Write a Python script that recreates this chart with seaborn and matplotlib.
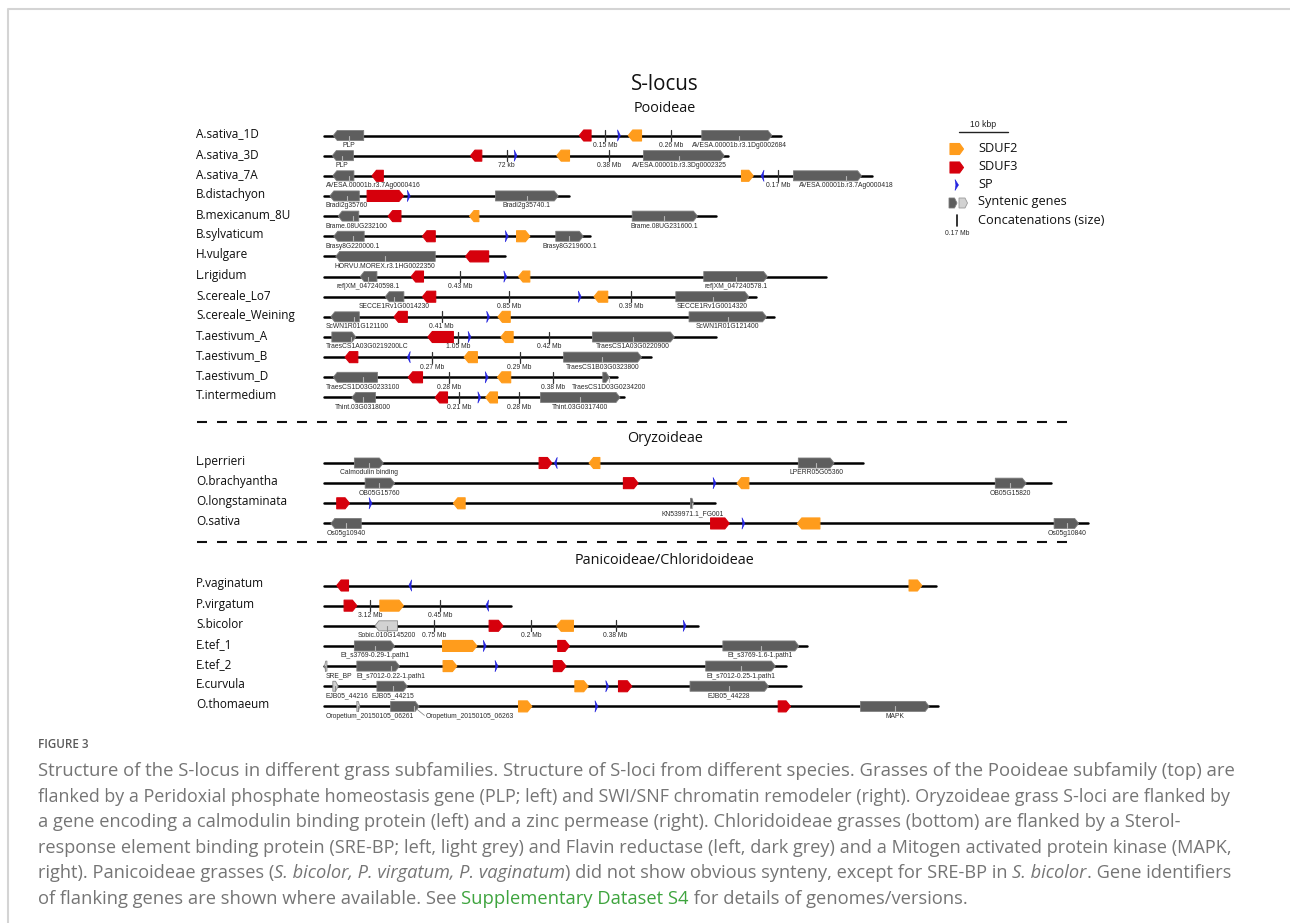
import numpy as np
import pandas as pd
import matplotlib
matplotlib.use("Agg")
import matplotlib.pyplot as plt
from matplotlib.patches import Polygon
import seaborn as sns

# rows of the figure, top to bottom, by subfamily
pooideae = ["A.sativa_1D", "A.sativa_3D", "A.sativa_7A", "B.distachyon", "B.mexicanum_8U",
            "B.sylvaticum", "H.vulgare", "L.rigidum", "S.cereale_Lo7", "S.cereale_Weining",
            "T.aestivum_A", "T.aestivum_B", "T.aestivum_D", "T.intermedium"]
oryzoideae = ["L.perrieri", "O.brachyantha", "O.longstaminata", "O.sativa"]
panicoideae = ["P.vaginatum", "P.virgatum", "S.bicolor", "E.tef_1", "E.tef_2", "E.curvula", "O.thomaeum"]
group_titles = ["Pooideae", "Oryzoideae", "Panicoideae/Chloridoideae"]

# drawn length of each locus in kb (same order as the rows)
locus_kb = [93.2, 82.4, 111.8, 50.0, 79.9, 54.2, 36.8, 102.3, 88.1, 91.8, 80.0, 66.6, 59.6, 61.1,
            109.8, 148.2, 79.7, 155.9,
            124.8, 38.1, 76.2, 98.5, 94.1, 97.3, 125.3]

# SDUF3 (red): species, start kb, end kb, strand
sduf3 = [("A.sativa_1D", 52.0, 54.4, -1), ("A.sativa_3D", 29.8, 32.1, -1), ("A.sativa_7A", 9.7, 12.0, -1),
         ("B.distachyon", 8.7, 16.1, 1), ("B.mexicanum_8U", 13.0, 15.6, -1), ("B.sylvaticum", 20.0, 22.6, -1),
         ("H.vulgare", 28.8, 33.5, -1), ("L.rigidum", 17.7, 20.2, -1), ("S.cereale_Lo7", 20.0, 22.7, -1),
         ("S.cereale_Weining", 14.2, 16.9, -1), ("T.aestivum_A", 21.1, 26.3, -1), ("T.aestivum_B", 4.2, 6.8, -1),
         ("T.aestivum_D", 17.1, 20.0, -1), ("T.intermedium", 22.6, 25.1, -1),
         ("L.perrieri", 43.8, 46.4, 1), ("O.brachyantha", 61.0, 64.0, 1), ("O.longstaminata", 2.5, 5.1, 1),
         ("O.sativa", 78.8, 82.6, 1),
         ("P.vaginatum", 2.5, 4.9, -1), ("P.virgatum", 4.0, 6.6, 1), ("S.bicolor", 33.6, 36.4, 1),
         ("E.tef_1", 47.6, 50.0, 1), ("E.tef_2", 46.7, 49.3, 1), ("E.curvula", 60.0, 62.7, 1),
         ("O.thomaeum", 92.6, 95.1, 1)]

# SDUF2 (orange)
sduf2 = [("A.sativa_1D", 62.0, 64.7, -1), ("A.sativa_3D", 47.4, 50.0, -1), ("A.sativa_7A", 85.1, 87.5, 1),
         ("B.mexicanum_8U", 29.6, 31.5, -1), ("B.sylvaticum", 39.2, 41.9, 1), ("L.rigidum", 39.6, 41.9, -1),
         ("S.cereale_Lo7", 55.0, 57.8, -1), ("S.cereale_Weining", 35.4, 37.9, -1), ("T.aestivum_A", 36.0, 38.5, -1),
         ("T.aestivum_B", 28.5, 31.2, -1), ("T.aestivum_D", 35.3, 38.0, -1), ("T.intermedium", 32.9, 35.3, -1),
         ("L.perrieri", 54.0, 56.2, -1), ("O.brachyantha", 84.2, 86.6, -1), ("O.longstaminata", 26.3, 28.7, -1),
         ("O.sativa", 96.5, 101.1, -1),
         ("P.vaginatum", 119.3, 121.9, 1), ("P.virgatum", 11.3, 16.1, 1), ("S.bicolor", 47.4, 50.8, -1),
         ("E.tef_1", 24.1, 31.1, 1), ("E.tef_2", 24.2, 27.0, 1), ("E.curvula", 51.1, 53.8, 1),
         ("O.thomaeum", 39.6, 42.3, 1)]

# SP (blue)
sp = [("A.sativa_1D", 59.8, 60.4, 1), ("A.sativa_3D", 38.7, 39.3, 1), ("A.sativa_7A", 89.1, 89.7, -1),
      ("B.distachyon", 16.9, 17.5, 1), ("B.sylvaticum", 36.9, 37.5, 1), ("L.rigidum", 36.6, 37.2, 1),
      ("S.cereale_Lo7", 51.8, 52.4, 1), ("S.cereale_Weining", 33.1, 33.7, 1), ("T.aestivum_A", 29.3, 29.9, 1),
      ("T.aestivum_B", 16.9, 17.5, -1), ("T.aestivum_D", 32.8, 33.4, 1), ("T.intermedium", 31.3, 31.9, 1),
      ("L.perrieri", 46.9, 47.5, -1), ("O.brachyantha", 79.3, 79.9, 1), ("O.longstaminata", 9.1, 9.7, 1),
      ("O.sativa", 85.2, 85.8, 1),
      ("P.vaginatum", 17.2, 17.8, -1), ("P.virgatum", 32.9, 33.5, -1), ("S.bicolor", 73.2, 73.8, 1),
      ("E.tef_1", 32.4, 33.0, 1), ("E.tef_2", 34.8, 35.4, 1), ("E.curvula", 57.4, 58.0, 1),
      ("O.thomaeum", 55.2, 55.8, 1)]

# syntenic flanking genes: species, start, end, strand, identifier, label anchor, shade
syntenic = [
    ("A.sativa_1D", 1.8, 8.0, -1, "PLP", 4.9, "dark"),
    ("A.sativa_1D", 77.0, 91.3, 1, "AVESA.00001b.r3.1Dg0002684", 84.6, "dark"),
    ("A.sativa_3D", 1.6, 5.9, -1, "PLP", 3.6, "dark"),
    ("A.sativa_3D", 65.1, 81.6, 1, "AVESA.00001b.r3.3Dg0002325", 72.4, "dark"),
    ("A.sativa_7A", 1.7, 6.0, -1, "AVESA.00001b.r3.7Ag0000416", 4.9, "dark"),
    ("A.sativa_7A", 95.7, 109.6, 1, "AVESA.00001b.r3.7Ag0000418", 106.4, "dark"),
    ("B.distachyon", 1.1, 7.1, -1, "Bradi2g35760", 4.6, "dark"),
    ("B.distachyon", 34.9, 47.7, 1, "Bradi2g35740.1", 41.3, "dark"),
    ("B.mexicanum_8U", 2.8, 7.0, -1, "Brame.08UG232100", 5.9, "dark"),
    ("B.mexicanum_8U", 62.8, 76.1, 1, "Brame.08UG231600.1", 69.3, "dark"),
    ("B.sylvaticum", 1.9, 8.1, -1, "Brasy8G220000.1", 5.8, "dark"),
    ("B.sylvaticum", 47.2, 52.8, 1, "Brasy8G219600.1", 50.0, "dark"),
    ("H.vulgare", 2.3, 22.6, -1, "HORVU.MOREX.r3.1HG0022350", 12.3, "dark"),
    ("L.rigidum", 7.3, 10.7, -1, "ref|XM_047240598.1", 8.9, "dark"),
    ("L.rigidum", 77.4, 90.4, 1, "ref|XM_047240578.1", 84.0, "dark"),
    ("S.cereale_Lo7", 12.4, 16.2, -1, "SECCE1Rv1G0014230", 14.2, "dark"),
    ("S.cereale_Lo7", 71.7, 86.6, 1, "SECCE1Rv1G0014320", 79.2, "dark"),
    ("S.cereale_Weining", 1.3, 7.1, -1, "ScWN1R01G121100", 6.0, "dark"),
    ("S.cereale_Weining", 74.4, 90.2, 1, "ScWN1R01G121400", 82.3, "dark"),
    ("T.aestivum_A", 1.5, 6.4, 1, "TraesCS1A03G0219200LC", 5.4, "dark"),
    ("T.aestivum_A", 54.7, 71.4, 1, "TraesCS1A03G0220900", 62.9, "dark"),
    ("T.aestivum_B", 48.8, 64.7, 1, "TraesCS1B03G0323800", 56.7, "dark"),
    ("T.aestivum_D", 1.8, 10.8, -1, "TraesCS1D03G0233100", 7.8, "dark"),
    ("T.aestivum_D", 56.8, 58.1, 1, "TraesCS1D03G0234200", 58.0, "dark"),
    ("T.intermedium", 5.6, 10.4, -1, "Thint.03G0318000", 7.9, "dark"),
    ("T.intermedium", 44.1, 60.3, 1, "Thint.03G0317400", 52.1, "dark"),
    ("L.perrieri", 6.1, 12.0, 1, "Calmodulin binding", 9.0, "dark"),
    ("L.perrieri", 96.7, 104.0, 1, "LPERR05G05360", 100.4, "dark"),
    ("O.brachyantha", 8.3, 14.3, 1, "OB05G15760", 11.2, "dark"),
    ("O.brachyantha", 136.9, 143.2, 1, "OB05G15820", 140.0, "dark"),
    ("O.longstaminata", 74.7, 75.3, 1, "KN539971.1_FG001", 75.1, "dark"),
    ("O.sativa", 1.3, 7.5, -1, "Os05g10940", 4.4, "dark"),
    ("O.sativa", 148.9, 153.9, 1, "Os05g10840", 151.5, "dark"),
    ("S.bicolor", 10.3, 14.9, -1, "Sobic.010G145200", 12.7, "light"),
    ("E.tef_1", 6.1, 14.3, 1, "Et_s3769-0.29-1.path1", 10.3, "dark"),
    ("E.tef_1", 81.3, 96.8, 1, "Et_s3769-1.6-1.path1", 89.0, "dark"),
    ("E.tef_2", 0.0, 0.5, -1, "SRE_BP", 0.2, "light"),
    ("E.tef_2", 6.6, 15.3, 1, "Et_s7012-0.22-1.path1", 13.6, "dark"),
    ("E.tef_2", 77.8, 92.0, 1, "Et_s7012-0.25-1.path1", 84.9, "dark"),
    ("E.curvula", 1.7, 2.8, 1, "EJB05_44216", 2.2, "light"),
    ("E.curvula", 10.7, 16.9, 1, "EJB05_44215", 13.9, "dark"),
    ("E.curvula", 74.6, 90.6, 1, "EJB05_44228", 82.6, "dark"),
    ("O.thomaeum", 6.6, 7.2, 1, "Oropetium_20150105_06261", 6.8, "light"),
    ("O.thomaeum", 13.5, 19.3, 1, "Oropetium_20150105_06263", 18.3, "dark"),
    ("O.thomaeum", 109.4, 123.4, 1, "MAPK", 116.4, "dark"),
]
# labels moved off their gene to avoid overlap (kb of label centre)
label_moved = {"Oropetium_20150105_06263": 29.6}

# concatenation points: species, position kb, skipped size
concat = [("A.sativa_1D", 57.2, "0.15 Mb"), ("A.sativa_1D", 70.7, "0.26 Mb"),
          ("A.sativa_3D", 37.2, "72 kb"), ("A.sativa_3D", 58.1, "0.38 Mb"),
          ("A.sativa_7A", 92.6, "0.17 Mb"),
          ("L.rigidum", 27.7, "0.43 Mb"),
          ("S.cereale_Lo7", 37.7, "0.85 Mb"), ("S.cereale_Lo7", 62.6, "0.39 Mb"),
          ("S.cereale_Weining", 23.9, "0.41 Mb"),
          ("T.aestivum_A", 27.3, "1.05 Mb"), ("T.aestivum_A", 45.8, "0.42 Mb"),
          ("T.aestivum_B", 21.9, "0.27 Mb"), ("T.aestivum_B", 39.8, "0.29 Mb"),
          ("T.aestivum_D", 25.5, "0.28 Mb"), ("T.aestivum_D", 46.6, "0.38 Mb"),
          ("T.intermedium", 27.4, "0.21 Mb"), ("T.intermedium", 39.7, "0.28 Mb"),
          ("P.virgatum", 9.3, "3.12 Mb"), ("P.virgatum", 23.6, "0.45 Mb"),
          ("S.bicolor", 22.4, "0.75 Mb"), ("S.bicolor", 42.1, "0.2 Mb"), ("S.bicolor", 59.4, "0.38 Mb")]

caption_lines = [
    [("Structure of the S-locus in different grass subfamilies. Structure of S-loci from different species. "
      "Grasses of the Pooideae subfamily (top) are", "normal", "c")],
    [("flanked by a Peridoxial phosphate homeostasis gene (PLP; left) and SWI/SNF chromatin remodeler (right). "
      "Oryzoideae grass S-loci are flanked by", "normal", "c")],
    [("a gene encoding a calmodulin binding protein (left) and a zinc permease (right). Chloridoideae grasses "
      "(bottom) are flanked by a Sterol-", "normal", "c")],
    [("response element binding protein (SRE-BP; left, light grey) and Flavin reductase (left, dark grey) and a "
      "Mitogen activated protein kinase (MAPK,", "normal", "c")],
    [("right). Panicoideae grasses (", "normal", "c"), ("S. bicolor, P. virgatum, P. vaginatum", "italic", "c"),
     (") did not show obvious synteny, except for SRE-BP in ", "normal", "c"), ("S. bicolor", "italic", "c"),
     (". Gene identifiers", "normal", "c")],
    [("of flanking genes are shown where available. See ", "normal", "c"),
     ("Supplementary Dataset S4", "normal", "g"),
     (" for details of genomes/versions.", "normal", "c")],
]
# right edge of each caption line in the panel (px)
caption_right = [1228, 1227, 1176, 1228, 1228, 966]

# ---------------------------------------------------------------- styling
sns.set_theme(style="white")
plt.rcParams["font.family"] = ["Open Sans", "DejaVu Sans"]

W, H = 1290, 923
PPK = 4.9          # pixels per kb (10 kbp scale bar = 49 px)
X0 = 324.5         # pixel x of the locus start
ROW_STEP = 20.15
group_top = [135.5, 463.0, 585.5]
title_y = [109, 438, 561]

RED, ORANGE, BLUE = "#d6000c", "#ff9c1c", "#2424e0"
DARK, LIGHT = "#5e5e5e", "#d2d2d2"
SMALL = dict(fontsize=4.9, family=["Liberation Sans", "DejaVu Sans"], color="#2a2a2a",
             ha="center", va="center")

fig = plt.figure(figsize=(W / 100, H / 100), dpi=100)
ov = fig.add_axes([0, 0, 1, 1])
ax = fig.add_axes([0, 0, 1, 1])
for a in (ov, ax):
    a.axis("off")
    a.patch.set_alpha(0)
renderer = fig.canvas.get_renderer()

groups = [pooideae, oryzoideae, panicoideae]
row_y = {}
for top, names in zip(group_top, groups):
    for i, n in enumerate(names):
        row_y[n] = top + i * ROW_STEP
all_rows = pooideae + oryzoideae + panicoideae


def arrow_pts(x0, x1, y, h, strand, tip):
    tip = min(tip, 0.5 * (x1 - x0))
    t, b = y - h / 2, y + h / 2
    if strand > 0:
        return [(x0, t), (x1 - tip, t), (x1, y), (x1 - tip, b), (x0, b)]
    return [(x1, t), (x0 + tip, t), (x0, y), (x0 + tip, b), (x1, b)]


def sp_pts(x0, x1, y, h, strand):
    if strand > 0:
        return [(x0, y - h / 2), (x1, y), (x0, y + h / 2), (x0 + 0.25 * (x1 - x0), y)]
    return [(x1, y - h / 2), (x0, y), (x1, y + h / 2), (x1 - 0.25 * (x1 - x0), y)]


# backbone lines
tracks = pd.DataFrame({"species": np.repeat(all_rows, 2),
                       "kb": np.ravel([[0.0, L] for L in locus_kb])})
tracks["y"] = tracks["species"].map(row_y)
sns.lineplot(data=tracks, x="kb", y="y", units="species", estimator=None, sort=False,
             color="black", lw=1.8, ax=ax, legend=False)

# species names
for n in all_rows:
    ov.text(196, row_y[n] - 1.5, n, fontsize=8.5, ha="left", va="center", color="#0d0d0d")

# concatenation marks
for n, pos, lab in concat:
    y = row_y[n]
    ax.plot([pos, pos], [y - 5.5, y + 5.5], color="#333333", lw=0.9, zorder=3)
    ax.text(pos, y + 10, lab, **SMALL)

# syntenic genes
for n, s, e, strand, name, anchor, shade in syntenic:
    y = row_y[n]
    fc, ec, tc = (DARK, "#7d7d7d", "#b5b5b5") if shade == "dark" else (LIGHT, "#888888", "#8a8a8a")
    ax.add_patch(Polygon(arrow_pts(s, e, y, 10, strand, 0.8), closed=True, fc=fc, ec=ec,
                         lw=0.6, joinstyle="round", zorder=4))
    ax.plot([anchor, anchor], [y, y + 5], color=tc, lw=0.8, zorder=5)
    lx = label_moved.get(name, anchor)
    t = ax.text(lx, y + 10, name, **SMALL)
    w = t.get_window_extent(renderer).width / PPK
    if lx - w / 2 < 0.3:
        t.set_x(0.3)
        t.set_ha("left")
    if name in label_moved:
        ax.plot([e - 0.4, lx - w / 2 - 0.2], [y + 3, y + 9], color="#777777", lw=0.5, zorder=3)

# S-locus genes
for feats, col in [(sduf3, RED), (sduf2, ORANGE)]:
    for n, s, e, strand in feats:
        ax.add_patch(Polygon(arrow_pts(s, e, row_y[n], 11, strand, 0.9), closed=True, fc=col, ec=col,
                             lw=0.8, joinstyle="round", zorder=4))
for n, s, e, strand in sp:
    ax.add_patch(Polygon(sp_pts(s, e, row_y[n], 11.5, strand), closed=True, fc=BLUE, ec=BLUE,
                         lw=0.4, zorder=4))

ax.set_xlim(-X0 / PPK, (W - X0) / PPK)
ax.set_ylim(H, 0)
ov.set_xlim(0, W)
ov.set_ylim(H, 0)

# titles and separators
ov.text(665, 84, "S-locus", fontsize=14.8, ha="center", va="center", color="#111111")
for ty, tt in zip(title_y, group_titles):
    ov.text(665, ty, tt, fontsize=10.4, ha="center", va="center", color="#111111")
for yy in (422.3, 542.3):
    ov.plot([197, 1070], [yy, yy], color="#111111", lw=1.5, ls=(0, (4.8, 4.8)))

# legend
scale0 = (959 - X0) / PPK
ax.plot([scale0, scale0 + 10], [131.5, 131.5], color="#222222", lw=1.0)
ov.text(983, 124.5, "10 kbp", fontsize=6.2, ha="center", va="center",
        family=["Liberation Sans", "DejaVu Sans"], color="#222222")
ov.add_patch(Polygon(arrow_pts(950, 963.5, 149, 11, 1, 4), closed=True, fc=ORANGE, ec=ORANGE,
                     lw=0.8, joinstyle="round"))
ov.add_patch(Polygon(arrow_pts(950, 963.5, 167.5, 11, 1, 4), closed=True, fc=RED, ec=RED,
                     lw=0.8, joinstyle="round"))
ov.add_patch(Polygon(sp_pts(955, 958.5, 185, 11, 1), closed=True, fc=BLUE, ec=BLUE, lw=0.4))
ov.add_patch(Polygon(arrow_pts(949, 957, 203, 10, 1, 2.5), closed=True, fc=DARK, ec="#7d7d7d", lw=0.6))
ov.add_patch(Polygon(arrow_pts(959, 967.5, 203, 10, 1, 2.5), closed=True, fc=LIGHT, ec="#999999", lw=0.6))
ov.plot([956.7, 956.7], [215, 226], color="#111111", lw=1.2)
ov.text(956.7, 233.5, "0.17 Mb", **SMALL)
for yy, tt in zip([149, 167.5, 185, 203, 221], ["SDUF2", "SDUF3", "SP", "Syntenic genes",
                                                "Concatenations (size)"]):
    ov.text(978, yy - 1, tt, fontsize=9.2, ha="left", va="center", color="#111111")

# frame of the figure panel
ov.plot([7.5, 7.5, W + 5], [H + 5, 8.5, 8.5], color="#d4d4d4", lw=1.5)

# caption
ov.text(38, 745, "FIGURE 3", fontsize=8.4, fontweight="semibold", ha="left", va="center", color="#5a5a5a")
CAP = dict(ha="left", va="center", family=["Open Sans", "DejaVu Sans"])
colors = {"c": "#757575", "g": "#3ea43e"}


def seg_width(s, style, size):
    a = ov.text(0, 0, s + ".", fontsize=size, fontstyle=style, **CAP)
    b = ov.text(0, 0, ".", fontsize=size, fontstyle=style, **CAP)
    w = a.get_window_extent(renderer).width - b.get_window_extent(renderer).width
    a.remove()
    b.remove()
    return w


for i, (segs, right) in enumerate(zip(caption_lines, caption_right)):
    base = sum(seg_width(s, st, 12) for s, st, c in segs)
    size = 12 * (right - 38) / base
    x = 38
    y = 771 + i * 25.6
    for s, style, c in segs:
        ov.text(x, y, s, fontsize=size, fontstyle=style, color=colors[c], **CAP)
        x += seg_width(s, style, size)

fig.savefig("out.png", dpi=100, facecolor="white")
